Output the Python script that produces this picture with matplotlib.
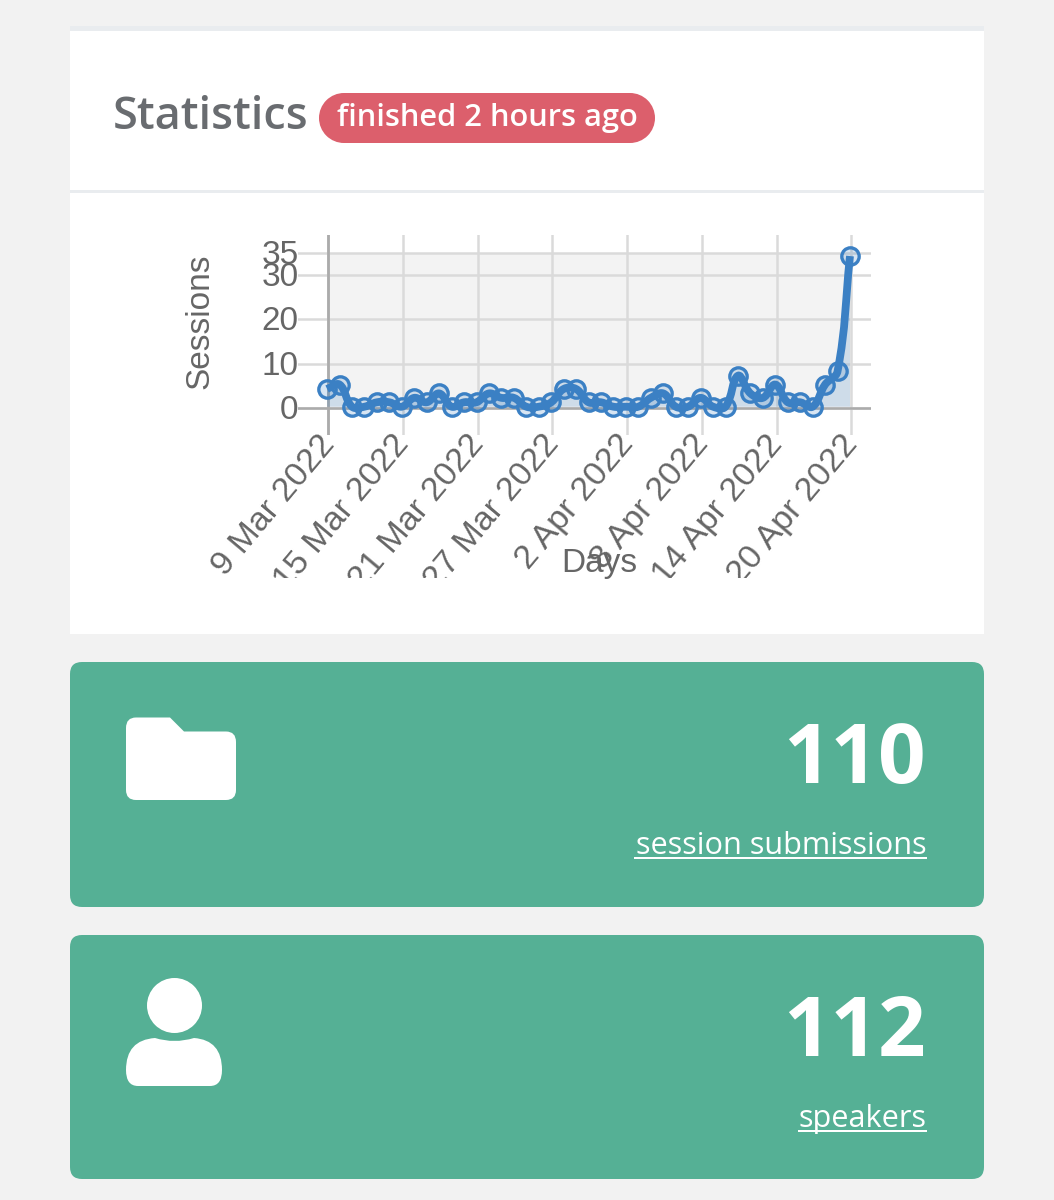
import matplotlib
matplotlib.use("Agg")
import matplotlib.pyplot as plt
import numpy as np
from matplotlib.patches import FancyBboxPatch, Rectangle, Circle, PathPatch
from matplotlib.path import Path
from matplotlib.transforms import Affine2D, Bbox, TransformedBbox

# ---- data ----
sessions = [4, 5, 0, 0, 1, 1, 0, 2, 1, 3, 0, 1, 1, 3, 2, 2, 0, 0, 1, 4, 4, 1, 1, 0, 0, 0,
            2, 3, 0, 0, 2, 0, 0, 7, 3, 2, 5, 1, 1, 0, 5, 8, 34]
x_tick_days = [0, 6, 12, 18, 24, 30, 36, 42]
x_tick_labels = ["9 Mar 2022", "15 Mar 2022", "21 Mar 2022", "27 Mar 2022",
                 "2 Apr 2022", "8 Apr 2022", "14 Apr 2022", "20 Apr 2022"]
y_ticks = [0, 10, 20, 30, 35]
title = "Statistics"
badge = "finished 2 hours ago"
stat_values = ["110", "112"]
stat_labels = ["session submissions", "speakers"]

W, H = 1054, 1200
PAGE, GREEN, RED = "#F2F2F2", "#55B095", "#DC5F6C"
HELV = "Liberation Sans"
OPEN = "Open Sans"
GREY = "#666666"
BLUE = "#3B80C4"

fig = plt.figure(figsize=(W / 100, H / 100), dpi=100, facecolor=PAGE)
bg = fig.add_axes([0, 0, 1, 1])
bg.set_xlim(0, W)
bg.set_ylim(H, 0)
bg.axis("off")

# header card
bg.add_patch(Rectangle((70, 26), 914, 608, fc="white", ec="none"))
bg.add_patch(Rectangle((70, 26), 914, 5, fc="#E9ECEF", ec="none"))
bg.add_patch(Rectangle((70, 190), 914, 2.5, fc="#E9ECEF", ec="none"))
bg.text(113, 129, title, family=OPEN, fontsize=32.5, fontweight=600, color="#696C70", va="baseline", ha="left")
bg.add_patch(Rectangle((344, 93), 286, 50, fc=RED, ec="none"))
bg.add_patch(Circle((344, 118), 25, fc=RED, ec="none"))
bg.add_patch(Circle((630, 118), 25, fc=RED, ec="none"))
bg.text(487, 126, badge, family=OPEN, fontsize=22.2, fontweight=600, color="white", va="baseline", ha="center")

# green cards
card_tops = [662, 935]
card_h = [245, 244]
for top, h, v, lab, ulx in zip(card_tops, card_h, stat_values, stat_labels, [634, 798]):
    bg.add_patch(FancyBboxPatch((70 + 12, top + 12), 914 - 24, h - 24,
                                boxstyle="round,pad=12,rounding_size=12", fc=GREEN, ec="none"))
    bg.text(926, top + 121, v, family=OPEN, fontsize=60, fontweight=700, color="white",
            ha="right", va="baseline")
    bg.text(927, top + 192, lab, family=OPEN, fontsize=22.1, color="white", ha="right", va="baseline")
    bg.add_patch(Rectangle((ulx, top + 195), 927 - ulx, 1.8, fc="white", ec="none"))

# folder icon
M, L, C = Path.MOVETO, Path.LINETO, Path.CURVE3
fv = [(126, 728), (126, 717.5), (136, 717.5), (170, 717.5), (184, 731.5), (226, 731.5), (236, 731.5),
      (236, 742), (236, 790), (236, 800), (226, 800), (136, 800), (126, 800), (126, 790), (126, 728)]
fc = [M, C, C, L, L, L, C, C, L, C, C, L, C, C, L]
bg.add_patch(PathPatch(Path(fv, fc), fc="white", ec="none"))
# person icon
bg.add_patch(Circle((174.5, 1005.5), 27.5, fc="white", ec="none"))
pv = [(126, 1070), (126, 1040), (155, 1038), (174.5, 1044), (194, 1038), (222, 1040), (222, 1070),
      (222, 1086), (210, 1086), (138, 1086), (126, 1086), (126, 1070)]
pc = [M, C, C, C, C, C, C, C, C, L, C, C]
bg.add_patch(PathPatch(Path(pv, pc), fc="white", ec="none"))

# chart axes: spans the extents of the grid lines
X0, XS = 328.3, 12.45   # px of day 0, px per day
Y0, YS = 408.0, 4.43    # px of value 0, px per unit
AL, AR, AT, AB = 298, 871, 235, 435
ax = fig.add_axes([AL / W, 1 - AB / H, (AR - AL) / W, (AB - AT) / H], zorder=2)
ax.patch.set_alpha(0)
ax.set_xlim((AL - X0) / XS, (AR - X0) / XS)
ax.set_ylim((Y0 - AB) / YS, (Y0 - AT) / YS)
for s in ax.spines.values():
    s.set_visible(False)

ax.fill_between([0, x_tick_days[-1]], 0, y_ticks[-1], color="#F3F3F3", lw=0, zorder=0)
ax.set_yticks(y_ticks)
ax.set_xticks(x_tick_days)
ax.set_axisbelow(True)
ax.tick_params(length=0, pad=0)
ax.grid(True, color="#DADADA", lw=1.8)
ax.axvline(0, color="#ABABAB", lw=2.0, zorder=1.5)
ax.axhline(0, color="#ABABAB", lw=1.8, zorder=1.5)
ax.set_yticklabels([str(v) for v in y_ticks], family=HELV, fontsize=24, color=GREY)
ax.set_xticklabels(x_tick_labels, family=HELV, fontsize=24.5, color=GREY, rotation=50,
                   ha="right", rotation_mode="anchor", va="top")
clip = TransformedBbox(Bbox([[0, H - 578], [W, H]]), Affine2D())
for t in ax.get_xticklabels():
    t.set_clip_box(clip)
    t.set_clip_on(True)
    t.set_transform(t.get_transform() + Affine2D().translate(-11, 6))
for t in ax.get_yticklabels():
    t.set_transform(t.get_transform() + Affine2D().translate(0.5, 1))

bg.text(200, 321, "Sessions", family=HELV, fontsize=24, color=GREY, rotation=90, ha="center", va="center", zorder=5)
fig.text(599 / W, 1 - 563 / H, "Days", family=HELV, fontsize=24, color=GREY, ha="center", va="center", zorder=5)

# smoothed line (same spline scheme as the original chart library)
xs = np.arange(len(sessions), dtype=float)
ys = np.array(sessions, dtype=float)
n = len(xs)
TENSION = 0.4
prev_ctrl, next_ctrl = np.zeros((n, 2)), np.zeros((n, 2))
for i in range(n):
    pv_i, nx_i = max(i - 1, 0), min(i + 1, n - 1)
    d01 = np.hypot((xs[i] - xs[pv_i]) * XS, (ys[i] - ys[pv_i]) * YS)
    d12 = np.hypot((xs[nx_i] - xs[i]) * XS, (ys[nx_i] - ys[i]) * YS)
    tot = (d01 + d12) or 1.0
    fa, fb = TENSION * d01 / tot, TENSION * d12 / tot
    dx, dy = xs[nx_i] - xs[pv_i], ys[nx_i] - ys[pv_i]
    prev_ctrl[i] = xs[i] - fa * dx, ys[i] - fa * dy
    next_ctrl[i] = xs[i] + fb * dx, ys[i] + fb * dy
verts, codes = [(xs[0], ys[0])], [Path.MOVETO]
for i in range(n - 1):
    verts += [tuple(next_ctrl[i]), tuple(prev_ctrl[i + 1]), (xs[i + 1], ys[i + 1])]
    codes += [Path.CURVE4] * 3
offset = ax.transData + Affine2D().translate(-1.2, 1.3)
fverts = verts + [(xs[-1], 0), (xs[0], 0), (xs[0], ys[0])]
fcodes = codes + [Path.LINETO, Path.LINETO, Path.CLOSEPOLY]
ax.add_patch(PathPatch(Path(fverts, fcodes), fc=BLUE, alpha=0.2, ec="none", transform=offset, zorder=2))
ax.add_patch(PathPatch(Path(verts, codes), fc="none", ec=BLUE, lw=5.6, transform=offset, zorder=3,
                       capstyle="butt", joinstyle="round"))
ax.plot(xs, ys, ls="none", marker="o", ms=12.5, mfc=(0.231, 0.502, 0.769, 0.2), mec=BLUE, mew=2.4,
        transform=offset, zorder=4, clip_on=False)

fig.savefig("out.png", dpi=100, facecolor=PAGE)
